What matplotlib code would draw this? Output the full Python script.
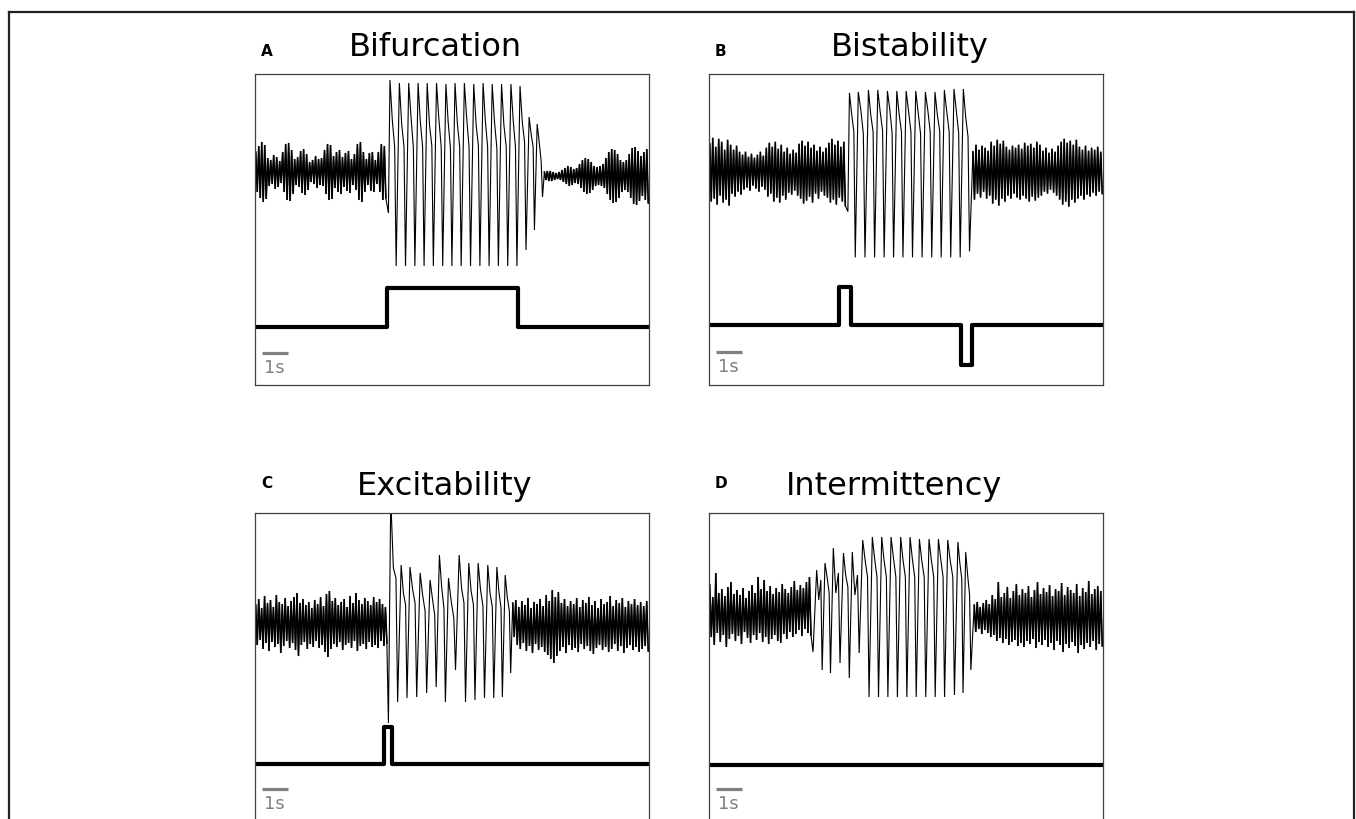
import numpy as np
import matplotlib
matplotlib.use("Agg")
import matplotlib.pyplot as plt
from matplotlib.lines import Line2D

# ---------------- data ----------------
T_END = 15.15          # seconds visible in each panel
BAR_LEN = 1.0          # scale bar, seconds

titles = ["Bifurcation", "Bistability", "Excitability", "Intermittency"]
letters = ["A", "B", "C", "D"]

# ---- Panel A : Bifurcation ----
A_pre_span = (0.0, 5.06)
A_pre_amp = [20, 26, 30, 27, 14, 12, 17, 15, 11, 20, 28, 29, 22, 13, 15, 21, 23, 18, 10, 12, 16, 13,
             14, 22, 28, 27, 16, 20, 22, 15, 19, 21, 13, 18, 28, 30, 20, 13, 19, 20, 12, 20, 28, 26]
A_dip = (5.13, -41)
A_spk_t = [5.19, 5.55, 5.91, 6.27, 6.62, 6.98, 7.34, 7.69, 8.05, 8.41, 8.77, 9.12, 9.48, 9.84,
           10.19, 10.54, 10.85]
A_spk_peak = [92, 89, 89, 89, 89, 89, 88, 89, 89, 88, 89, 88, 88, 88, 86, 55, 48]
A_spk_wiggle = [52, 48, 55, 50, 47, 53, 50, 49, 54, 48, 51, 50, 47, 52, 50, 38, 30]
A_spk_shoulder = [25, 25, 24, 25, 26, 25, 24, 25, 25, 26, 25, 24, 25, 25, 30, 25, 10]
A_spk_trough = [-94, -94, -94, -94, -94, -94, -94, -94, -94, -94, -94, -94, -94, -94, -78, -58, -25]
A_post_span = (11.10, T_END)
A_post_center = -4
A_post_amp = [4, 5, 5, 4, 3, 4, 6, 8, 10, 9, 7, 8, 12, 16, 18, 17, 14, 10, 9, 10, 12, 18, 24, 27,
              26, 22, 16, 14, 16, 22, 28, 29, 25, 20, 24, 27]
A_stim_t = [0.0, 5.06, 10.10, T_END]
A_stim_v = [-155, -116, -155, -155]

# ---- Panel B : Bistability ----
B_pre_span = (0.0, 5.27)
B_pre_hi = [28, 34, 25, 33, 30, 22, 32, 27, 22, 26, 20, 17, 20, 15, 18, 14, 17, 20, 16, 24, 29, 25, 30,
            23, 27, 20, 24, 18, 22, 19, 28, 31, 26, 30, 24, 27, 21, 25, 20, 24, 29, 33, 27, 31, 25, 30]
B_pre_lo = [-30, -27, -33, -24, -31, -28, -34, -22, -25, -20, -23, -18, -16, -19, -14, -17, -20, -15,
            -18, -25, -22, -30, -26, -31, -24, -28, -21, -23, -19, -24, -27, -32, -29, -25, -31, -22,
            -27, -20, -24, -26, -31, -28, -33, -26, -30, -34]
B_dip = (5.34, -40)
B_spk_t = [5.40, 5.74, 6.13, 6.49, 6.86, 7.22, 7.58, 7.95, 8.32, 8.69, 9.05, 9.42, 9.78]
B_spk_peak = [79, 80, 82, 82, 81, 81, 81, 81, 80, 80, 82, 83, 83]
B_spk_wiggle = [58, 62, 57, 60, 63, 58, 61, 59, 62, 57, 60, 61, 55]
B_spk_shoulder = [40, 38, 40, 41, 39, 40, 40, 38, 40, 41, 40, 39, 35]
B_spk_trough = [-86, -86, -86, -86, -86, -86, -86, -86, -86, -86, -86, -86, -80]
B_post_span = (10.12, T_END)
B_post_hi = [20, 27, 22, 26, 24, 21, 30, 26, 32, 28, 31, 25, 22, 26, 24, 27, 23, 29, 26, 28, 24, 30,
             27, 21, 24, 19, 23, 20, 26, 30, 33, 29, 31, 27, 32, 25, 22, 26, 21, 24, 22, 25, 20]
B_post_lo = [-28, -22, -26, -20, -27, -24, -32, -28, -34, -27, -30, -24, -27, -22, -26, -28, -24, -27,
             -30, -25, -29, -26, -24, -20, -22, -18, -21, -24, -28, -33, -30, -35, -28, -31, -27, -24,
             -28, -23, -25, -21, -24, -20, -22]
B_stim_t = [0.0, 5.00, 5.46, 9.69, 10.10, T_END]
B_stim_v = [-154, -116, -154, -194, -154, -154]

# ---- Panel C : Excitability ----
C_pre_span = (0.0, 5.10)
C_pre_hi = [18, 24, 15, 27, 20, 23, 16, 28, 21, 19, 25, 17, 22, 26, 30, 20, 24, 18, 21, 15, 23, 19, 26,
            17, 29, 32, 22, 25, 18, 21, 24, 16, 27, 20, 30, 23, 19, 25, 22, 18, 26, 21, 24, 19, 16]
C_pre_lo = [-22, -17, -26, -20, -28, -19, -24, -21, -30, -23, -18, -25, -20, -27, -33, -22, -19, -26,
            -21, -24, -18, -25, -22, -29, -34, -26, -21, -24, -19, -27, -22, -20, -25, -18, -28, -23,
            -21, -26, -19, -24, -22, -25, -18, -23, -20]
C_dip = (5.13, -100)
C_spk_t = [5.22, 5.62, 5.96, 6.35, 6.73, 7.09, 7.44, 7.85, 8.22, 8.58, 8.95, 9.30, 9.62]
C_spk_peak = [125, 58, 56, 50, 43, 68, 45, 68, 60, 60, 58, 56, 48]
C_spk_wiggle = [55, 30, 34, 28, 25, 36, 22, 35, 32, 33, 30, 31, 26]
C_spk_shoulder = [45, 18, 20, 12, 8, 15, 5, 20, 18, 17, 16, 15, 12]
C_spk_trough = [-79, -75, -74, -70, -64, -79, -47, -79, -77, -75, -75, -74, -50]
C_post_span = (9.88, T_END)
C_post_center = -2
C_post_hi = [22, 25, 18, 24, 20, 27, 17, 23, 21, 26, 19, 30, 24, 35, 28, 33, 22, 26, 19, 24, 21, 27, 18,
             25, 22, 28, 20, 24, 17, 26, 21, 23, 29, 19, 25, 22, 27, 18, 24, 21, 26, 20, 23, 19, 24]
C_post_lo = [-12, -20, -24, -18, -26, -21, -28, -19, -25, -22, -27, -30, -34, -38, -31, -26, -22, -28,
             -20, -25, -23, -27, -19, -24, -21, -26, -29, -23, -20, -25, -22, -27, -24, -19, -26, -21,
             -28, -23, -20, -25, -22, -27, -24, -21, -26]
C_stim_t = [0.0, 4.96, 5.27, T_END]
C_stim_v = [-141, -104, -141, -141]

# ---- Panel D : Intermittency ----
D_pre_span = (0.0, 3.95)
D_pre_hi = [30, 18, 42, 22, 26, 19, 28, 33, 21, 25, 20, 27, 17, 24, 30, 22, 38, 26, 35, 24, 29, 21, 27,
            23, 31, 26, 22, 28, 34, 25, 30, 27, 33, 38]
D_pre_lo = [-22, -30, -18, -27, -20, -32, -24, -19, -26, -21, -29, -17, -23, -28, -20, -25, -18, -27,
            -22, -29, -24, -20, -26, -28, -19, -24, -17, -22, -19, -15, -21, -14, -18, -20]
D_dip = (4.00, -37)
D_spk_t = [4.14, 4.46, 4.78, 5.17, 5.51, 5.91, 6.28, 6.64, 7.00, 7.37, 7.73, 8.09, 8.46, 8.82, 9.18,
           9.57, 9.87]
D_spk_peak = [45, 52, 67, 62, 63, 75, 78, 78, 78, 78, 78, 76, 76, 76, 75, 73, 63]
D_spk_wiggle = [15, 38, 22, 40, 20, 55, 56, 55, 57, 55, 56, 54, 55, 56, 54, 52, 40]
D_spk_shoulder = [35, 22, 42, 28, 40, 38, 38, 38, 38, 38, 38, 38, 38, 38, 38, 36, 20]
D_spk_trough = [-55, -58, -48, -63, -38, -82, -82, -82, -82, -82, -82, -82, -82, -82, -80, -78, -55]
D_post_span = (10.17, T_END)
D_post_center = -2
D_post_hi = [12, 15, 10, 14, 17, 13, 22, 18, 35, 20, 24, 30, 19, 26, 33, 22, 28, 24, 31, 20, 27, 35, 23,
             29, 25, 32, 21, 28, 26, 34, 22, 30, 27, 24, 33, 21, 29, 25, 36, 23, 28, 31, 26]
D_post_lo = [-15, -12, -17, -13, -16, -20, -18, -24, -21, -26, -22, -28, -25, -23, -29, -26, -30, -24,
             -27, -22, -31, -25, -28, -23, -30, -26, -33, -24, -28, -35, -27, -31, -25, -29, -36, -28,
             -32, -26, -30, -24, -33, -27, -29]
D_stim_t = [0.0, T_END]
D_stim_v = [-150, -150]

# ---------------- helpers ----------------
def noise_vertices(span, hi, lo, center=0.0):
    n = len(hi)
    edges = np.linspace(span[0], span[1], n + 1)
    dt = np.diff(edges)
    t = np.empty(2 * n)
    v = np.empty(2 * n)
    t[0::2] = edges[:-1] + 0.25 * dt
    t[1::2] = edges[:-1] + 0.75 * dt
    v[0::2] = np.asarray(hi, float) + center
    v[1::2] = np.asarray(lo, float) + center
    return t, v


def spike_vertices(tp, peak, wiggle, shoulder, trough):
    tp = np.asarray(tp, float)
    d = np.diff(tp)
    T = np.append(d, d[-1])
    ts, vs = [], []
    for k in range(len(tp)):
        ts += [tp[k], tp[k] + 0.25 * T[k], tp[k] + 0.50 * T[k], tp[k] + 0.66 * T[k]]
        vs += [peak[k], wiggle[k], shoulder[k], trough[k]]
    return np.array(ts), np.array(vs, float)


def panel_parts(pre, dip, spk, post):
    t = np.concatenate([pre[0], [dip[0]], spk[0], post[0]])
    v = np.concatenate([pre[1], [dip[1]], spk[1], post[1]])
    return (t, v), pre, post


panels = [
    dict(parts=panel_parts(noise_vertices(A_pre_span, A_pre_amp, [-a for a in A_pre_amp]), A_dip,
                           spike_vertices(A_spk_t, A_spk_peak, A_spk_wiggle, A_spk_shoulder, A_spk_trough),
                           noise_vertices(A_post_span, A_post_amp, [-a for a in A_post_amp], A_post_center)),
         stim=(A_stim_t, A_stim_v), ylim=(-213, 98), bar=-181, bartxt=-196),
    dict(parts=panel_parts(noise_vertices(B_pre_span, B_pre_hi, B_pre_lo), B_dip,
                           spike_vertices(B_spk_t, B_spk_peak, B_spk_wiggle, B_spk_shoulder, B_spk_trough),
                           noise_vertices(B_post_span, B_post_hi, B_post_lo)),
         stim=(B_stim_t, B_stim_v), ylim=(-214, 98), bar=-181, bartxt=-196),
    dict(parts=panel_parts(noise_vertices(C_pre_span, C_pre_hi, C_pre_lo), C_dip,
                           spike_vertices(C_spk_t, C_spk_peak, C_spk_wiggle, C_spk_shoulder, C_spk_trough),
                           noise_vertices(C_post_span, C_post_hi, C_post_lo, C_post_center)),
         stim=(C_stim_t, C_stim_v), ylim=(-201, 110), bar=-166, bartxt=-181),
    dict(parts=panel_parts(noise_vertices(D_pre_span, D_pre_hi, D_pre_lo), D_dip,
                           spike_vertices(D_spk_t, D_spk_peak, D_spk_wiggle, D_spk_shoulder, D_spk_trough),
                           noise_vertices(D_post_span, D_post_hi, D_post_lo, D_post_center)),
         stim=(D_stim_t, D_stim_v), ylim=(-209, 102), bar=-174, bartxt=-189),
]

# ---------------- figure ----------------
W, H = 1356, 819
fig = plt.figure(figsize=(W / 100, H / 100), dpi=100)
fig.patch.set_facecolor("white")

boxes = [(255, 74), (709, 74), (255, 513), (709, 513)]   # (left, top) in px
AX_W, AX_H = 394, 311
title_pos = [(435.5, 56), (910, 56), (444.5, 495), (894, 495)]
letter_pos = [(266.5, 56), (720, 56), (267, 488), (720.5, 488)]

for i, p in enumerate(panels):
    lx, ty = boxes[i]
    ax = fig.add_axes([lx / W, (H - ty - AX_H) / H, AX_W / W, AX_H / H])
    (t, v), pre, post = p["parts"]
    ax.plot(t, v, color="black", lw=0.8, solid_joinstyle="miter")
    ax.plot(pre[0], pre[1], color="black", lw=1.15, solid_joinstyle="miter")
    ax.plot(post[0], post[1], color="black", lw=1.15, solid_joinstyle="miter")
    st, sv = p["stim"]
    ax.plot(st, sv, color="black", lw=3.0, drawstyle="steps-post",
            solid_joinstyle="round", solid_capstyle="butt")
    ax.plot([0.27, 0.27 + BAR_LEN], [p["bar"], p["bar"]], color="#808080", lw=2.3,
            solid_capstyle="butt")
    ax.text(0.36, p["bartxt"], "1s", color="#808080", fontsize=12.8, ha="left", va="center")
    ax.set_xlim(0, T_END)
    ax.set_ylim(*p["ylim"])
    ax.set_xticks([])
    ax.set_yticks([])
    for s in ax.spines.values():
        s.set_color("#404040")
        s.set_linewidth(0.9)

    tx, tyy = title_pos[i]
    fig.text(tx / W, 1 - tyy / H, titles[i], fontsize=23, ha="center", va="baseline",
             family="DejaVu Sans")
    lxx, lyy = letter_pos[i]
    fig.text(lxx / W, 1 - lyy / H, letters[i], fontsize=11, fontweight="bold",
             ha="center", va="baseline", family="DejaVu Sans")

# outer frame (top, left, right edges)
for xs, ys in [([9, 1354], [11.5, 11.5]), ([9, 9], [11.5, 819]), ([1354, 1354], [11.5, 819])]:
    fig.add_artist(Line2D([x / W for x in xs], [1 - y / H for y in ys], color="#222222", lw=1.6,
                          transform=fig.transFigure))

fig.savefig("out.png", dpi=100, facecolor="white")
